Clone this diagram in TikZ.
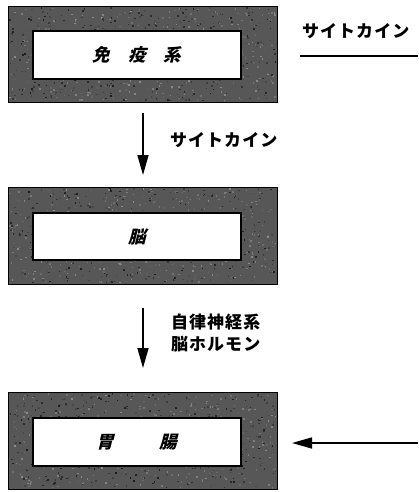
\documentclass[tikz,border=0pt]{standalone}
\usepackage{fontspec}
\newfontfamily\jp{Noto Sans CJK JP}[LetterSpace=6]
\newfontfamily\jpsl{Noto Sans CJK JP}[FakeSlant=0.25]
\usetikzlibrary{arrows.meta}
\tikzset{
  outerbox/.style={draw=black,line width=1.6pt,fill=black!66},
  innerbox/.style={draw=black,line width=1.1pt,fill=white},
  boxlabel/.style={font=\jpsl\bfseries\fontsize{17.5}{20}\selectfont},
  sidelabel/.style={font=\jp\bfseries\fontsize{17}{22}\selectfont,anchor=west,align=left,inner sep=0pt},
  flow/.style={line width=1.6pt,-{Triangle[length=20pt,width=11pt]}},
}
\newcommand{\specks}[4]{%
  \foreach \i in {1,...,900}{%
    \pgfmathsetmacro{\sx}{#1+rnd*(#3-#1-2)}%
    \pgfmathsetmacro{\sy}{#2+rnd*(#4-#2-2)}%
    \pgfmathsetmacro{\sc}{int(45+rnd*45)}%
    \fill[black!\sc] (\sx,\sy) rectangle ++(1.5,1.5);%
  }}
\begin{document}
\begin{tikzpicture}[x=1pt,y=-1pt]
\pgfmathsetseed{7}
\useasboundingbox (0,0) rectangle (418,492);
% box 1
\node[outerbox,minimum width=269pt,minimum height=96pt,inner sep=0pt] (b1) at (143,54.5) {};
\specks{9}{7}{277}{102}
\node[innerbox,minimum width=208pt,minimum height=48pt,inner sep=0pt] (i1) at (137,55) {};
\node[boxlabel] (t1) at (i1) {免\hspace{18pt}疫\hspace{18pt}系};
% box 2
\node[outerbox,minimum width=269pt,minimum height=97pt,inner sep=0pt] (b2) at (143,236) {};
\specks{9}{188}{277}{284}
\node[innerbox,minimum width=208pt,minimum height=47pt,inner sep=0pt] (i2) at (137,236.5) {};
\node[boxlabel] (t2) at (i2) {脳};
% box 3
\node[outerbox,minimum width=269pt,minimum height=97pt,inner sep=0pt] (b3) at (143,441) {};
\specks{9}{393}{277}{489}
\node[innerbox,minimum width=208pt,minimum height=48pt,inner sep=0pt] (i3) at (137,442) {};
\node[boxlabel] (t3) at (i3) {胃\hspace{46pt}腸};
% arrows
\coordinate (a1s) at (143,113);
\coordinate (a2s) at (143,308);
\draw[flow] (a1s) -- (143,175);
\draw[flow] (a2s) -- (143,368);
\coordinate (a3s) at (418,443);
\draw[flow] (a3s) -- (292,443);
% labels
\node[sidelabel] (l1) at (170,140) {サイトカイン};
\node[sidelabel] (l2) at (171,333) {自律神経系\\脳ホルモン};
\node[sidelabel] (l3) at (302,31) {サイトカイン};
\coordinate (ls) at (300,56);
\coordinate (le) at (418,56);
\draw[line width=1.4pt] (ls) -- (le);
\end{tikzpicture}
\end{document}
